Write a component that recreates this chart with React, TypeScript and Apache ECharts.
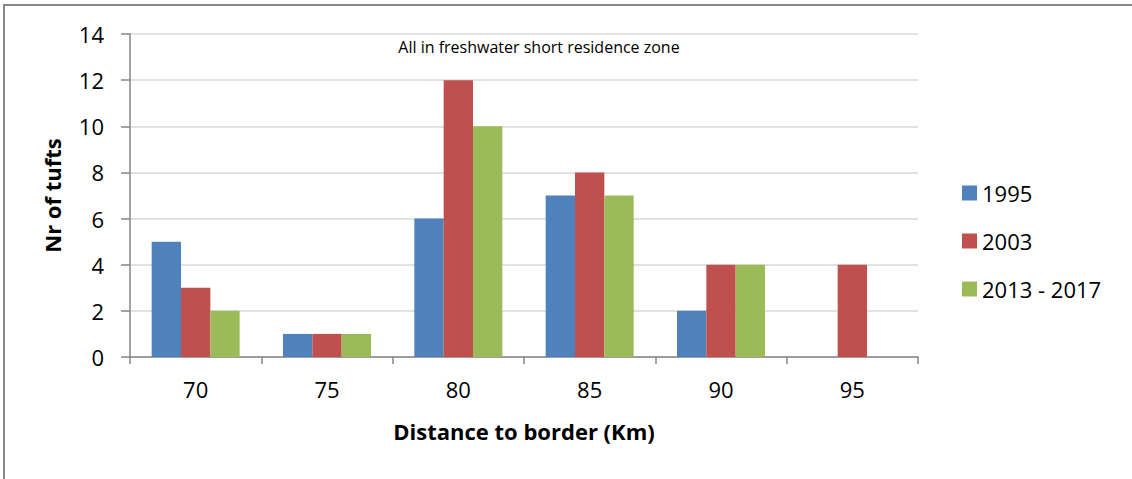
import React, { useEffect, useRef } from "react";
import * as echarts from "echarts";

const distances = ["70", "75", "80", "85", "90", "95"];
const tufts1995 = [5, 1, 6, 7, 2, null];
const tufts2003 = [3, 1, 12, 8, 4, 4];
const tufts2013to2017 = [2, 1, 10, 7, 4, null];
const seriesNames = ["1995", "2003", "2013 - 2017"];
const seriesColors = ["#4F81BD", "#C0504D", "#9BBB59"];

const FONT = "'Open Sans', sans-serif";

export default function App() {
  const ref = useRef<HTMLDivElement>(null);

  useEffect(() => {
    document.body.style.margin = "0";
    if (!ref.current) return;
    const chart = echarts.init(ref.current, undefined, { renderer: "svg" });
    const values = [tufts1995, tufts2003, tufts2013to2017];
    chart.setOption({
      animation: false,
      textStyle: { fontFamily: FONT },
      graphic: [
        {
          type: "rect",
          shape: { x: 4, y: 5, width: 1200, height: 600 },
          style: { fill: "none", stroke: "#888888", lineWidth: 2 },
          silent: true,
        },
        {
          type: "text",
          x: 539,
          y: 47,
          style: {
            text: "All in freshwater short residence zone",
            fontFamily: FONT,
            fontSize: 16,
            fill: "#000",
            textAlign: "center",
            textVerticalAlign: "middle",
          },
        },
      ],
      grid: { left: 130, top: 34, right: 214, bottom: 122, containLabel: false },
      legend: {
        orient: "vertical",
        left: 957,
        top: 177,
        itemWidth: 15,
        itemHeight: 15,
        itemGap: 26,
        icon: "rect",
        data: seriesNames,
        textStyle: { fontSize: 22, color: "#000", fontFamily: FONT, lineHeight: 22 },
      },
      xAxis: {
        type: "category",
        data: distances,
        name: "Distance to border (Km)",
        nameLocation: "middle",
        nameGap: 63,
        nameTextStyle: { fontSize: 22, fontWeight: "bold", color: "#000", fontFamily: FONT },
        axisLine: { lineStyle: { color: "#868686", width: 1.5 } },
        axisTick: { show: true, length: 7, lineStyle: { color: "#868686", width: 1.5 } },
        axisLabel: { fontSize: 22, color: "#000", margin: 21, fontFamily: FONT },
      },
      yAxis: {
        type: "value",
        min: 0,
        max: 14,
        interval: 2,
        name: "Nr of tufts",
        nameLocation: "middle",
        nameRotate: 90,
        nameGap: 67,
        nameTextStyle: { fontSize: 22, fontWeight: "bold", color: "#000", fontFamily: FONT },
        axisLine: { show: true, lineStyle: { color: "#868686", width: 1.5 } },
        axisTick: { show: true, length: 9, lineStyle: { color: "#868686", width: 1.5 } },
        axisLabel: { fontSize: 22, color: "#000", margin: 26, fontFamily: FONT },
        splitLine: { lineStyle: { color: "#D9D9D9", width: 1.5 } },
      },
      series: seriesNames.map((name, i) => ({
        name,
        type: "bar",
        data: values[i],
        barGap: "0%",
        barCategoryGap: "33%",
        itemStyle: { color: seriesColors[i] },
      })),
    });
    return () => chart.dispose();
  }, []);

  return <div ref={ref} style={{ width: 1132, height: 479 }} />;
}
